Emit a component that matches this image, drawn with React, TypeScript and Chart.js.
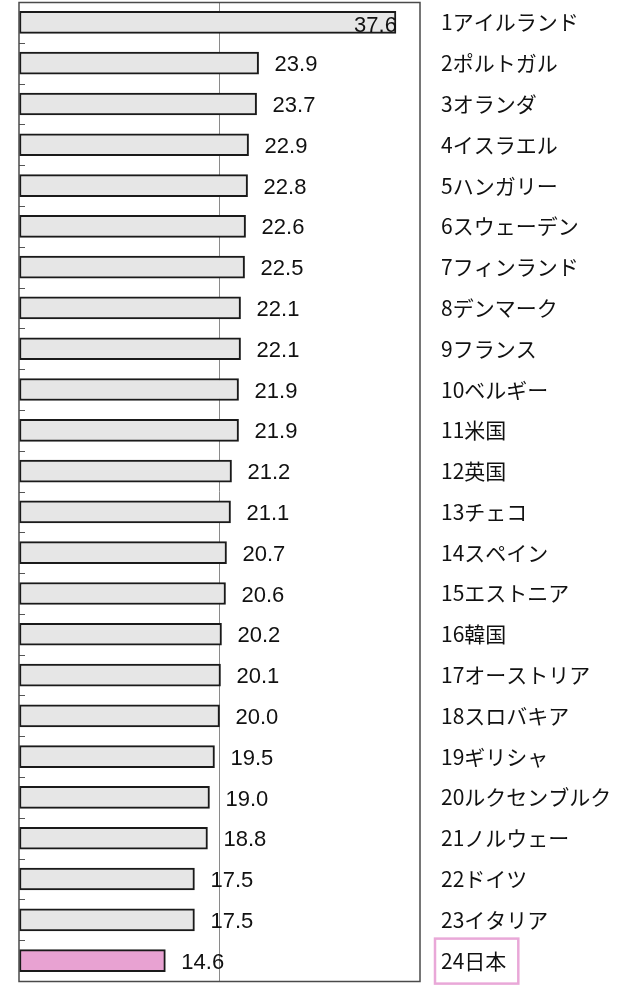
import { useEffect, useRef } from 'react';
import { Chart, registerables } from 'chart.js';

Chart.register(...registerables);

const categories = [
  '1アイルランド', '2ポルトガル', '3オランダ', '4イスラエル', '5ハンガリー', '6スウェーデン',
  '7フィンランド', '8デンマーク', '9フランス', '10ベルギー', '11米国', '12英国',
  '13チェコ', '14スペイン', '15エストニア', '16韓国', '17オーストリア', '18スロバキア',
  '19ギリシャ', '20ルクセンブルク', '21ノルウェー', '22ドイツ', '23イタリア', '24日本',
];
const values = [
  37.6, 23.9, 23.7, 22.9, 22.8, 22.6, 22.5, 22.1, 22.1, 21.9, 21.9, 21.2,
  21.1, 20.7, 20.6, 20.2, 20.1, 20.0, 19.5, 19.0, 18.8, 17.5, 17.5, 14.6,
];
const highlightIndex = 23;
const xMin = 0;
const xMax = 40;
const xStep = 20;

const BAR_GRAY = '#e6e6e6';
const BAR_PINK = '#e8a2d2';
const BOX_PINK = '#e9a8d8';

export default function App() {
  const ref = useRef<HTMLCanvasElement>(null);

  useEffect(() => {
    const canvas = ref.current;
    if (!canvas) return;

    const decor = {
      id: 'decor',
      beforeDatasetsDraw(chart: any) {
        const { ctx, chartArea } = chart;
        const y = chart.scales.y;
        ctx.save();
        ctx.strokeStyle = '#555';
        ctx.lineWidth = 1;
        for (let i = 1; i < categories.length; i++) {
          const py = Math.round((y.getPixelForValue(i - 1) + y.getPixelForValue(i)) / 2) + 0.5;
          ctx.beginPath();
          ctx.moveTo(chartArea.left, py);
          ctx.lineTo(chartArea.left + 6, py);
          ctx.stroke();
        }
        ctx.restore();
      },
      afterDraw(chart: any) {
        const { ctx, chartArea } = chart;
        ctx.save();
        ctx.strokeStyle = '#4a4a4a';
        ctx.lineWidth = 1.5;
        ctx.strokeRect(chartArea.left, chartArea.top + 0.5, chartArea.right - chartArea.left, chartArea.bottom - chartArea.top);

        const meta = chart.getDatasetMeta(0);
        ctx.fillStyle = '#111';
        ctx.font = "22px 'Liberation Sans', Arial, sans-serif";
        ctx.textBaseline = 'middle';
        meta.data.forEach((bar: any, i: number) => {
          const txt = values[i].toFixed(1);
          if (bar.x + 60 > chartArea.right) {
            ctx.textAlign = 'right';
            ctx.fillText(txt, bar.x + 1, bar.y + 4);
          } else {
            ctx.textAlign = 'left';
            ctx.fillText(txt, bar.x + 16, bar.y + 2);
          }
        });

        const ys = chart.scales.y;
        const py = ys.getPixelForValue(highlightIndex);
        ctx.font = "21px 'Noto Sans CJK JP', sans-serif";
        const w = ctx.measureText(categories[highlightIndex]).width;
        const lx = ys.left + 21;
        ctx.strokeStyle = BOX_PINK;
        ctx.lineWidth = 2.5;
        ctx.strokeRect(lx - 6, py - 22, w + 18, 45);
        ctx.restore();
      },
    };

    const chart = new Chart(canvas, {
      type: 'bar',
      data: {
        labels: categories,
        datasets: [
          {
            data: values,
            backgroundColor: values.map((_, i) => (i === highlightIndex ? BAR_PINK : BAR_GRAY)),
            borderColor: '#1a1a1a',
            borderWidth: 2,
            borderSkipped: false,
            barThickness: 22,
          },
        ],
      },
      options: {
        indexAxis: 'y',
        animation: false,
        responsive: false,
        maintainAspectRatio: false,
        devicePixelRatio: 1,
        layout: { padding: { left: 19, top: 2, bottom: 6, right: 0 } },
        plugins: { legend: { display: false }, tooltip: { enabled: false } },
        scales: {
          x: {
            min: xMin,
            max: xMax,
            ticks: { display: false, stepSize: xStep },
            grid: {
              color: (c: any) => (c.tick && c.tick.value === xStep ? '#8a8a8a' : 'rgba(0,0,0,0)'),
              drawTicks: false,
              lineWidth: 1,
            },
            border: { display: false },
            afterFit: (s: any) => {
              s.height = 0;
              s.paddingLeft = 0;
              s.paddingRight = 0;
            },
          },
          y: {
            position: 'right',
            grid: { display: false, drawTicks: false },
            border: { display: false },
            ticks: {
              color: '#111',
              padding: 21,
              font: { family: "'Noto Sans CJK JP', sans-serif", size: 21 },
            },
            afterFit: (s: any) => {
              s.width = 217;
              s.paddingTop = 0;
              s.paddingBottom = 0;
            },
          },
        },
      },
      plugins: [decor],
    } as any);

    return () => chart.destroy();
  }, []);

  return (
    <div style={{ position: 'absolute', left: 0, top: 0, width: 637, height: 987, background: '#fff' }}>
      <canvas ref={ref} width={637} height={987} />
    </div>
  );
}
